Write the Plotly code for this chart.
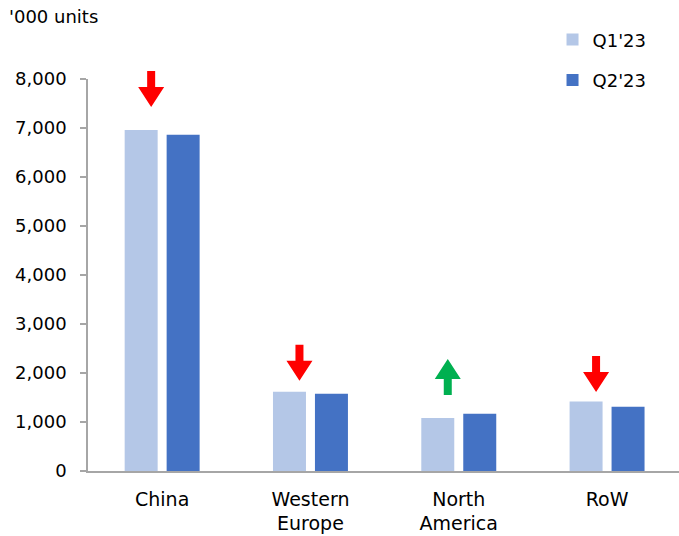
import plotly.graph_objects as go

categories = ["China", "Western<br>Europe", "North<br>America", "RoW"]
series_names = ["Q1'23", "Q2'23"]
q1_values = [6960, 1615, 1080, 1420]
q2_values = [6860, 1575, 1170, 1310]
# value (in '000 units) where each change arrow sits (tip for down, tail for up)
arrow_anchor = [7430, 1840, 1550, 1610]
y_ticks = [0, 1000, 2000, 3000, 4000, 5000, 6000, 7000, 8000]

FONT = "DejaVu Sans, Arial, sans-serif"
C_Q1 = "#B4C7E7"
C_Q2 = "#4472C4"
AXIS = "#A6A6A6"

X_RANGE = [-0.5, 3.485]
Y_RANGE = [0, 8000]

x_idx = list(range(len(categories)))

fig = go.Figure()
fig.add_trace(go.Bar(x=x_idx, y=q1_values, name=series_names[0],
                     marker=dict(color=C_Q1, line=dict(width=0)),
                     legendgroup="a"))
fig.add_trace(go.Bar(x=x_idx, y=q2_values, name=series_names[1],
                     marker=dict(color=C_Q2, line=dict(width=0)),
                     legendgroup="b"))

down_path = "M -15,36 L -7,36 L -7,20 L 2,20 L -11,0 L -24,20 L -15,20 Z"
up_path = "M -15,0 L -7,0 L -7,16 L 2,16 L -11,36 L -24,16 L -15,16 Z"
shapes = []
for i, (a, b, y) in enumerate(zip(q1_values, q2_values, arrow_anchor)):
    up = b > a
    px = (i - X_RANGE[0]) / (X_RANGE[1] - X_RANGE[0])
    py = (y - Y_RANGE[0]) / (Y_RANGE[1] - Y_RANGE[0])
    shapes.append(dict(
        type="path", xref="paper", yref="paper",
        xsizemode="pixel", ysizemode="pixel",
        xanchor=px, yanchor=py,
        path=up_path if up else down_path,
        fillcolor="#00B050" if up else "#FF0000",
        line=dict(width=0),
        layer="above",
    ))

fig.update_layout(
    width=679, height=536,
    margin=dict(l=88, r=0, t=79, b=65),
    paper_bgcolor="white", plot_bgcolor="white",
    font=dict(family=FONT, size=18, color="#000000"),
    barmode="group", bargap=0.434, bargroupgap=0.214,
    shapes=shapes,
    showlegend=True,
    legend=dict(x=0.786, xanchor="left", y=1.147, yanchor="top",
                traceorder="grouped", tracegroupgap=14,
                font=dict(family=FONT, size=18, color="#000000"),
                bgcolor="rgba(0,0,0,0)"),
    annotations=[dict(text="'000 units", xref="paper", yref="paper",
                      x=-0.137, y=1.16, xanchor="left", yanchor="middle",
                      showarrow=False,
                      font=dict(family=FONT, size=18, color="#000000"))],
)
fig.update_xaxes(
    range=X_RANGE, tickvals=x_idx, ticktext=categories,
    showline=True, linecolor=AXIS, linewidth=1.5,
    ticks="", showgrid=False, zeroline=False,
    ticklabelstandoff=10,
    tickfont=dict(family=FONT, size=19, color="#000000"),
)
fig.update_yaxes(
    range=Y_RANGE, tickvals=y_ticks, tickformat=",d",
    showline=True, linecolor=AXIS, linewidth=1.5,
    ticks="outside", ticklen=6, tickcolor=AXIS, tickwidth=1.5,
    showgrid=False, zeroline=False,
    ticklabelstandoff=10,
    tickfont=dict(family=FONT, size=18, color="#000000"),
)

fig.write_html("out.html")
